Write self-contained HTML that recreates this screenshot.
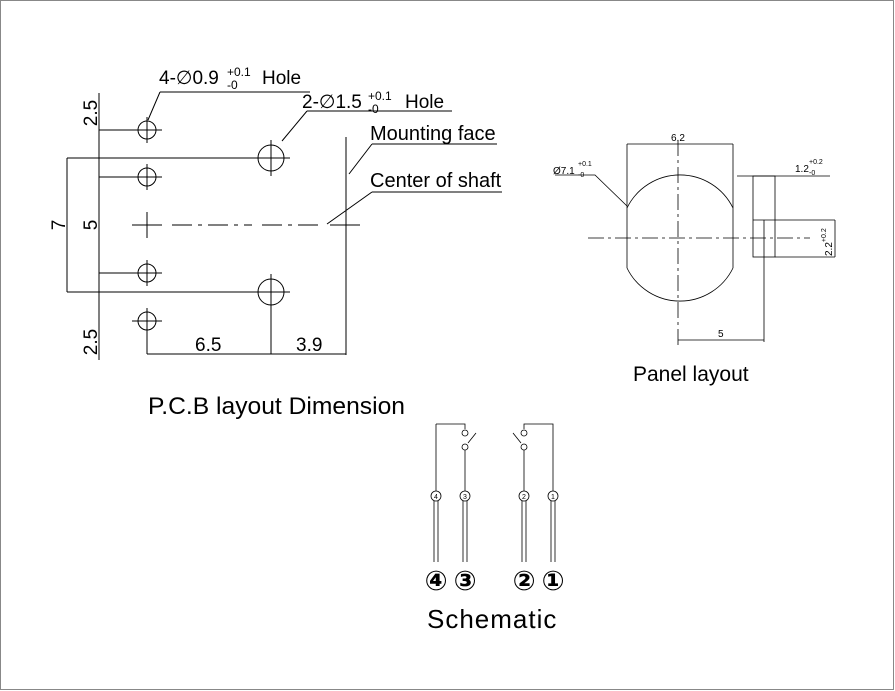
<!DOCTYPE html>
<html><head><style>
body{margin:0;background:#fff}
svg{display:block;font-family:"Liberation Sans",sans-serif}
</style></head><body>
<svg width="895" height="691" viewBox="0 0 895 691" xmlns="http://www.w3.org/2000/svg">
<rect x="0.5" y="0.5" width="893" height="689" fill="#fff" stroke="#888"/>
<g stroke="#000" stroke-width="1" fill="none">
<circle cx="147" cy="130" r="9"/><circle cx="147" cy="177" r="9"/>
<circle cx="147" cy="273" r="9"/><circle cx="147" cy="321" r="9"/>
<circle cx="271" cy="158" r="13"/><circle cx="271" cy="292" r="13"/>
<path d="M147 117v26M147 164v26M147 260v26M147 308v46M132 130h30M99 177h63M99 273h63M132 321h30"/>
<path d="M271 140v36M271 274v80M250 158h40M250 292h40"/>
<path d="M147 212v26M132 225h30" />
<path d="M172 225h80M262 225h60" stroke-dasharray="20 6 4 6"/>
<path d="M330 225h30"/>
<path d="M99 93v267M67 158v134M67 158h183M67 292h183M99 130h33"/>
<path d="M346 137v218M147 354h199"/>
<path d="M160 92h150M160 92l-12 28M307 111h145M307 111l-25 30M372 144h125M372 144l-23 30M372 192h130M372 192l-45 32"/>
</g>
<g font-size="19" fill="#000">
<text x="159" y="84">4-∅0.9</text>
<text x="227" y="76" font-size="12">+0.1</text><text x="227" y="89" font-size="12">-0</text>
<text x="262" y="84">Hole</text>
<text x="302" y="108">2-∅1.5</text>
<text x="368" y="100" font-size="12">+0.1</text><text x="368" y="113" font-size="12">-0</text>
<text x="405" y="108">Hole</text>
<text x="370" y="140" font-size="20">Mounting face</text>
<text x="370" y="187" font-size="20">Center of shaft</text>
<text x="195" y="351">6.5</text>
<text x="296" y="351">3.9</text>
<text transform="translate(97,113) rotate(-90)" text-anchor="middle">2.5</text>
<text transform="translate(97,342) rotate(-90)" text-anchor="middle">2.5</text>
<text transform="translate(97,225) rotate(-90)" text-anchor="middle">5</text>
<text transform="translate(65,225) rotate(-90)" text-anchor="middle">7</text>
<text x="148" y="414" font-size="24" textLength="257" lengthAdjust="spacingAndGlyphs">P.C.B layout Dimension</text>
<text x="633" y="381" font-size="21">Panel layout</text>
<text x="427" y="628" font-size="26" letter-spacing="1">Schematic</text>
</g>
<g stroke="#000" stroke-width="0.8" fill="none">
<path d="M627 144h106M627 144v64M733 144v64M627 208v60M733 208v60"/>
<path d="M627 208 A59 59 0 0 1 733 208M627 268 A59 59 0 0 0 733 268"/>
<path d="M678 140v205M588 238h222" stroke-dasharray="16 4 3 4"/>
<rect x="753" y="176" width="22" height="81"/>
<path d="M753 220h82M775 257h60M737 176h93M835 220v37M764 220v122M678 340h86M555 175h40l32 31"/>
</g>
<g font-size="10" fill="#000">
<text x="671" y="141">6.2</text>
<text x="553" y="174">Ø7.1</text><text x="578" y="166" font-size="7">+0.1</text><text x="578" y="177" font-size="7">-0</text>
<text x="795" y="172">1.2</text><text x="809" y="164" font-size="7">+0.2</text><text x="809" y="175" font-size="7">-0</text>
<text transform="translate(832,256) rotate(-90)">2.2<tspan font-size="7" dy="-6">+0.2</tspan></text>
<text x="718" y="337">5</text>
</g>
<g stroke="#000" stroke-width="0.8" fill="none">
<path d="M436 424h29v5M524 429v-5h29v67M436 424v67M465 450v41M524 450v41"/>
<circle cx="465" cy="433" r="3"/><circle cx="465" cy="447" r="3"/>
<circle cx="524" cy="433" r="3"/><circle cx="524" cy="447" r="3"/>
<path d="M468 443l8-10M521 443l-8-10"/>
<circle cx="436" cy="496" r="5"/><circle cx="465" cy="496" r="5"/>
<circle cx="524" cy="496" r="5"/><circle cx="553" cy="496" r="5"/>
<path d="M434 501v61M438 501v61M463 501v61M467 501v61M522 501v61M526 501v61M551 501v61M555 501v61"/>
</g>
<g font-size="7" text-anchor="middle" fill="#000">
<text x="436" y="499">4</text><text x="465" y="499">3</text><text x="524" y="499">2</text><text x="553" y="499">1</text>
</g>
<g font-size="27" font-weight="bold" text-anchor="middle" fill="#000" font-family="'DejaVu Sans',sans-serif">
<text x="436" y="590">④</text><text x="465" y="590">③</text><text x="524" y="590">②</text><text x="553" y="590">①</text>
</g>
</svg>
</body></html>
